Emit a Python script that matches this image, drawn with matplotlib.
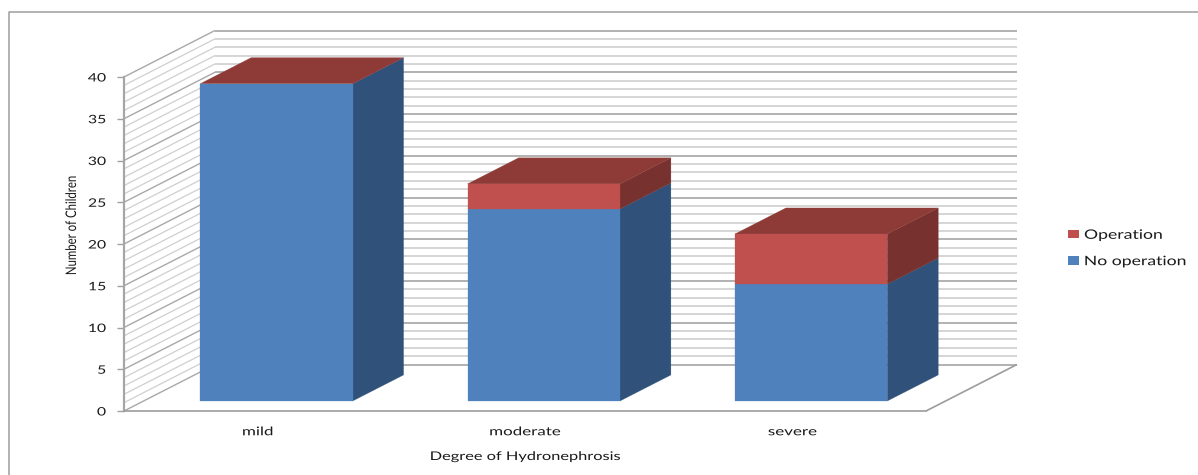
import matplotlib
matplotlib.use("Agg")
import matplotlib.pyplot as plt
from matplotlib.lines import Line2D
from matplotlib.patches import Patch, Polygon
from matplotlib.patheffects import AbstractPathEffect
from matplotlib.transforms import Affine2D

categories = ["mild", "moderate", "severe"]
no_operation = [38, 23, 14]
operation = [0, 3, 6]
series_names = ["No operation", "Operation"]
y_ticks = [0, 5, 10, 15, 20, 25, 30, 35, 40]

W, H = 1198, 475
BLUE, BLUE_SIDE = "#4F81BD", "#30527A"
RED, RED_SIDE, RED_TOP = "#C0504D", "#77312F", "#8E3B38"
TEXT = "#1a1a1a"
FONT = "Lato"

# Oblique projection: one unit of depth shifts a point right and up, in data units
DEPTH_X = 91 / (802 / 3)
DEPTH_Y = 46.5 / (334 / 40)
BAR_WIDTH = 0.57
BAR_CENTRE = 0.497
DEPTH_FRONT, DEPTH_BACK = 0.215, 0.775


class WidthScale(AbstractPathEffect):
    """Stretch text along its baseline about a fixed fraction of its length."""

    def __init__(self, factor, anchor=0.5):
        super().__init__()
        self.factor = factor
        self.anchor = anchor

    def draw_path(self, renderer, gc, tpath, affine, rgbFace=None):
        box = tpath.get_extents()
        pivot = box.x0 + self.anchor * box.width
        stretch = Affine2D().translate(-pivot, 0).scale(self.factor, 1).translate(pivot, 0)
        renderer.draw_path(gc, tpath, stretch + affine, rgbFace)


fig = plt.figure(figsize=(W / 100, H / 100), dpi=100, facecolor="white")
ax = fig.add_axes([124 / W, 1 - 411 / H, 802 / W, 334 / H])
ax.set_xlim(0, 3)
ax.set_ylim(0, 40)
ax.patch.set_visible(False)


def project(x, depth, value):
    return x + depth * DEPTH_X, value + depth * DEPTH_Y


def line(p, q, color, lw, z=1):
    ax.plot([p[0], q[0]], [p[1], q[1]], color=color, lw=lw, zorder=z,
            clip_on=False, solid_capstyle="butt")


def face(points, color, z):
    ax.add_patch(Polygon(points, closed=True, facecolor=color, edgecolor=color,
                         lw=0.2, zorder=z, clip_on=False))


# Gridlines on the side and back walls: minor every unit, major every five
for v in range(41):
    major = v % 5 == 0
    color = "#9c9c9c" if major else "#d2d2d2"
    lw = 1.1 if major else 1.3
    a, b, c = project(0, 0, v), project(0, 1, v), project(3, 1, v)
    line(a, b, "#a8a8a8" if major else "#cfcfcf", 1.0 if major else 0.9)
    line(b, c, color, lw)

# Floor outline
line(project(3, 0, 0), project(3, 1, 0), "#9c9c9c", 1.2)

# Stacked bars with front, side and top faces
for i, (low, high) in enumerate(zip(no_operation, operation)):
    x0 = i + BAR_CENTRE - BAR_WIDTH / 2
    x1 = x0 + BAR_WIDTH
    total = low + high
    for bottom, top, front, side in ((0, low, BLUE, BLUE_SIDE),
                                     (low, total, RED, RED_SIDE)):
        if top == bottom:
            continue
        face([project(x1, DEPTH_FRONT, bottom), project(x1, DEPTH_BACK, bottom),
              project(x1, DEPTH_BACK, top), project(x1, DEPTH_FRONT, top)], side, 3)
        face([project(x0, DEPTH_FRONT, bottom), project(x1, DEPTH_FRONT, bottom),
              project(x1, DEPTH_FRONT, top), project(x0, DEPTH_FRONT, top)], front, 4)
    face([project(x0, DEPTH_FRONT, total), project(x1, DEPTH_FRONT, total),
          project(x1, DEPTH_BACK, total), project(x0, DEPTH_BACK, total)], RED_TOP, 3)

# Axes furniture on the front edge
for name in ("top", "right"):
    ax.spines[name].set_visible(False)
ax.spines["left"].set_color("#a6a6a6")
ax.spines["left"].set_linewidth(1.6)
ax.spines["bottom"].set_color("#9c9c9c")
ax.spines["bottom"].set_linewidth(1.2)
ax.set_yticks(y_ticks)
ax.set_xticks([i + 0.5 for i in range(len(categories))], categories)
ax.tick_params(axis="y", length=5, width=1.0, color="#a0a0a0", labelsize=8.4,
               labelcolor=TEXT, pad=8)
ax.tick_params(axis="x", length=0, labelsize=8.6, labelcolor=TEXT, pad=11)
for t in ax.get_yticklabels():
    t.set_family(FONT)
    t.set_path_effects([WidthScale(1.35, anchor=1.0)])
for t in ax.get_xticklabels():
    t.set_family(FONT)
    t.set_path_effects([WidthScale(1.42)])

xlabel = ax.set_xlabel("Degree of Hydronephrosis", fontsize=8.6, color=TEXT, family=FONT)
xlabel.set_path_effects([WidthScale(1.37)])
ax.xaxis.set_label_coords(401 / 802, -40 / 334)

ylabel = ax.set_ylabel("Number of Children", fontsize=10.5, color=TEXT, family=FONT)
ylabel.set_path_effects([WidthScale(0.78)])
ax.yaxis.set_label_coords(-45 / 802, 1 - (225 - 77) / 334)

handles = [Patch(facecolor=RED, label=series_names[1]),
           Patch(facecolor=BLUE, label=series_names[0])]
legend = fig.legend(handles=handles, loc="center left", frameon=False, fontsize=9.4,
                    bbox_to_anchor=(1059 / W, 1 - 248 / H), handlelength=0.85,
                    handleheight=0.62, handletextpad=0.38, labelspacing=1.1,
                    labelcolor=TEXT, borderpad=0.2, prop={"family": FONT, "size": 9.4})
for t in legend.get_texts():
    t.set_path_effects([WidthScale(1.35, anchor=0.0)])

# Chart-area border: left and top edges only
fig.add_artist(Line2D([9 / W, 9 / W, 1], [0, 1 - 12 / H, 1 - 12 / H],
                      color="#a6a6a6", lw=1.2))

fig.savefig("out.png", dpi=100)
